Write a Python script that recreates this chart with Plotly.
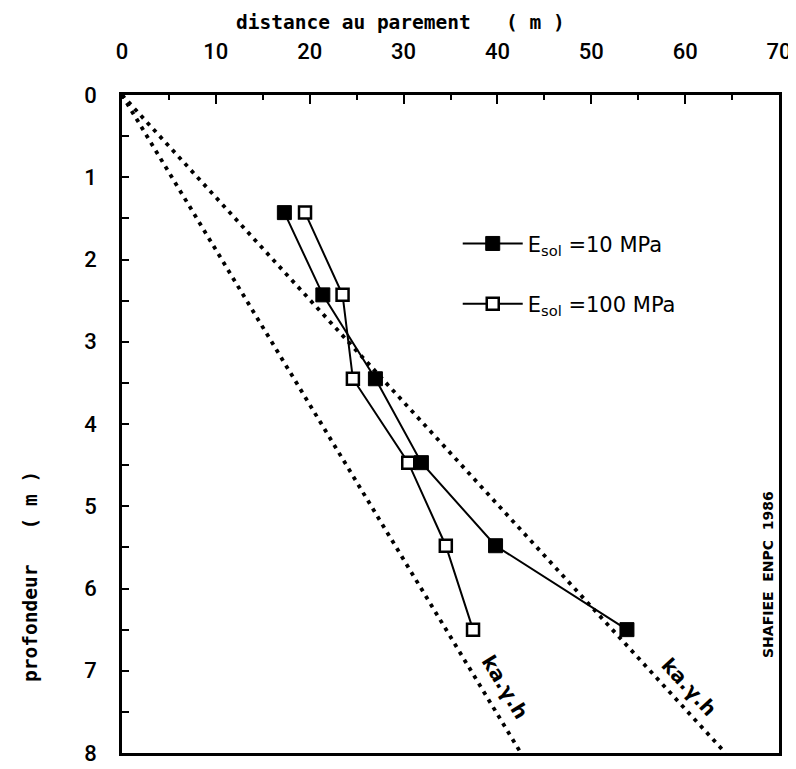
import plotly.graph_objects as go

# depth (m) of the measurement points
depth = [1.43, 2.43, 3.45, 4.47, 5.48, 6.50]
# distance au parement (m)
dist_e10 = [17.3, 21.4, 27.0, 31.9, 39.8, 53.8]     # E_sol = 10 MPa (filled)
dist_e100 = [19.5, 23.5, 24.6, 30.5, 34.5, 37.4]    # E_sol = 100 MPa (open)

# Ka.gamma.h reference lines (start at origin, end at depth 8)
ka_depth = [0, 8]
ka_left = [0, 42.5]
ka_right = [0, 64.3]

x_ticks = [0, 10, 20, 30, 40, 50, 60, 70]
y_ticks = [0, 1, 2, 3, 4, 5, 6, 7, 8]

fig = go.Figure()

dot_line = dict(color="black", width=3.8, dash="3.8px,5.5px")
fig.add_trace(go.Scatter(x=ka_left, y=ka_depth, mode="lines", line=dot_line,
                         showlegend=False, hoverinfo="skip"))
fig.add_trace(go.Scatter(x=ka_right, y=ka_depth, mode="lines", line=dot_line,
                         showlegend=False, hoverinfo="skip"))

fig.add_trace(go.Scatter(
    x=dist_e10, y=depth, mode="lines+markers",
    name="E<sub>sol</sub> =10 MPa", legendgroup="a",
    line=dict(color="black", width=2),
    marker=dict(symbol="square", size=14, color="black",
                line=dict(color="black", width=1))))
fig.add_trace(go.Scatter(
    x=dist_e100, y=depth, mode="lines+markers",
    name="E<sub>sol</sub> =100 MPa", legendgroup="b",
    line=dict(color="black", width=2),
    marker=dict(symbol="square", size=12, color="white",
                line=dict(color="black", width=2.5))))

tick_font = dict(family="Roboto", size=22, color="black", weight=500)

# page body has an 8px margin, so the figure is sized 8px smaller
fig.update_layout(
    width=788, height=761,
    margin=dict(l=114, r=17, t=87, b=16, autoexpand=False),
    paper_bgcolor="white", plot_bgcolor="white",
    showlegend=True,
    legend=dict(x=0.511, y=0.805, xanchor="left", yanchor="top",
                bgcolor="rgba(0,0,0,0)", traceorder="grouped",
                tracegroupgap=30, itemwidth=60,
                font=dict(family="DejaVu Sans", size=21, color="black")),
    xaxis=dict(range=[0, 70], side="top", tickvals=x_ticks, automargin=False,
               ticks="inside", ticklen=9, tickwidth=2, tickcolor="black",
               minor=dict(dtick=5, ticks="inside", ticklen=5, tickwidth=2,
                          tickcolor="black"),
               showline=True, linecolor="black", linewidth=2.5, mirror=True,
               showgrid=False, zeroline=False, tickfont=tick_font,
               ticklabelstandoff=24),
    yaxis=dict(range=[8, 0], tickvals=y_ticks, automargin=False,
               ticks="inside", ticklen=7, tickwidth=2, tickcolor="black",
               minor=dict(dtick=0.5, ticks="inside", ticklen=7, tickwidth=2,
                          tickcolor="black"),
               showline=True, linecolor="black", linewidth=2.5, mirror=True,
               showgrid=False, zeroline=False, tickfont=tick_font,
               ticklabelstandoff=18),
)

title_font = dict(family="DejaVu Sans Mono", size=19.5, color="black")
fig.add_annotation(text="<b>distance au parement   ( m )</b>", xref="paper", yref="paper",
                   x=(400 - 122) / 657, y=1 + (95 - 22) / 658, xanchor="center",
                   yanchor="middle", showarrow=False, font=title_font)
fig.add_annotation(text="<b>profondeur   ( m )</b>", xref="paper", yref="paper",
                   x=-(122 - 30) / 657, y=1 - (577 - 95) / 658, xanchor="center",
                   yanchor="middle", textangle=-90, showarrow=False, font=title_font)
fig.add_annotation(text="<b>SHAFIEE  ENPC  1986</b>", xref="paper", yref="paper",
                   x=1 - (779 - 768) / 657, y=1 - (575 - 95) / 658, xanchor="center",
                   yanchor="middle", textangle=-90, showarrow=False,
                   font=dict(family="DejaVu Sans", size=14, color="black"))

ka_font = dict(family="DejaVu Sans", size=20, color="black")
fig.add_annotation(text="<b>ka.γ.h</b>", x=40.8, y=7.2, textangle=58.8,
                   showarrow=False, font=ka_font)
fig.add_annotation(text="<b>ka.γ.h</b>", x=60.4, y=7.2, textangle=47.5,
                   showarrow=False, font=ka_font)

fig.write_html("out.html")
